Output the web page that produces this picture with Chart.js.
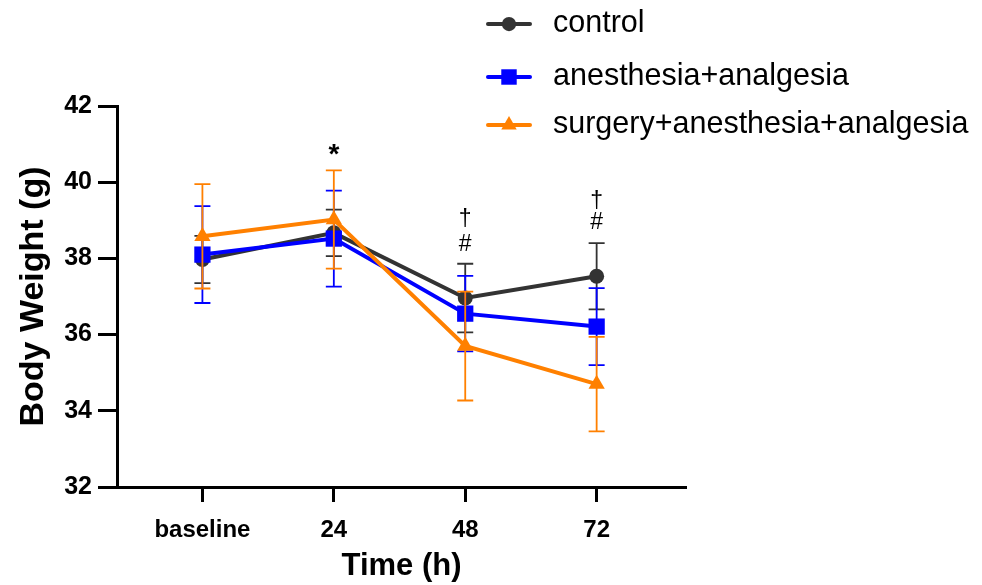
<!DOCTYPE html>
<html lang="en">
<head>
  <meta charset="UTF-8">
  <title>Body Weight</title>
  <script src="https://cdn.jsdelivr.net/npm/chart.js"></script>
  <style>
    body { margin: 0; background: #fff; }
    #wrap { width: 982px; height: 585px; }
  </style>
</head>
<body>
  <div id="wrap"><canvas id="weightChart" width="982" height="585"></canvas></div>

  <script>
    // data
    const timeLabels = ['baseline', '24', '48', '72'];
    const seriesNames = ['control', 'anesthesia+analgesia', 'surgery+anesthesia+analgesia'];

    const controlMean = [37.97, 38.67, 36.96, 37.53];
    const controlSd = [0.62, 0.61, 0.90, 0.87];
    const anesMean = [38.10, 38.52, 36.55, 36.21];
    const anesSd = [1.27, 1.26, 0.99, 1.01];
    const surgMean = [38.58, 39.02, 35.70, 34.70];
    const surgSd = [1.37, 1.29, 1.43, 1.24];

    const yTicks = [32, 34, 36, 38, 40, 42];

    // significance marks: [time index, y value, text]
    const marks = [
      [1, 40.70, '*'],
      [2, 39.02, '†'], [2, 38.36, '#'],
      [3, 39.49, '†'], [3, 38.94, '#']
    ];

    const FONT = "'Liberation Sans', Arial, sans-serif";
    const colors = ['#333333', '#0000ff', '#ff8000'];
    const shapes = ['circle', 'rect', 'triangle'];
    const radii = [7.5, 11.5, 9.4];
    const sds = [controlSd, anesSd, surgSd];

    function toPoints(arr) {
      return arr.map((v, i) => ({ x: i, y: v }));
    }

    // error bars, drawn just before each dataset's own line
    const errorBars = {
      id: 'errorBars',
      beforeDatasetDraw(chart, args) {
        const { ctx, scales: { x, y } } = chart;
        const ds = chart.data.datasets[args.index];
        const sd = sds[args.index];
        ctx.save();
        ctx.strokeStyle = ds.borderColor;
        ctx.lineWidth = 1.8;
        ds.data.forEach((p, i) => {
          const px = x.getPixelForValue(p.x);
          const top = y.getPixelForValue(p.y + sd[i]);
          const bot = y.getPixelForValue(p.y - sd[i]);
          ctx.beginPath();
          ctx.moveTo(px, top); ctx.lineTo(px, bot);
          ctx.moveTo(px - 8, top); ctx.lineTo(px + 8, top);
          ctx.moveTo(px - 8, bot); ctx.lineTo(px + 8, bot);
          ctx.stroke();
        });
        ctx.restore();
      }
    };

    // stars, daggers, hashes above the points
    const sigMarks = {
      id: 'sigMarks',
      afterDatasetsDraw(chart) {
        const { ctx, scales: { x, y } } = chart;
        ctx.save();
        ctx.fillStyle = '#000';
        ctx.textAlign = 'center';
        ctx.textBaseline = 'middle';
        marks.forEach(([i, v, t]) => {
          ctx.font = t === '*' ? 'bold 28px ' + FONT : '23px ' + FONT;
          ctx.fillText(t, x.getPixelForValue(i), y.getPixelForValue(v));
        });
        ctx.restore();
      }
    };

    // legend in the top right corner, line + marker + name
    function drawMarker(ctx, shape, cx, cy, r) {
      ctx.beginPath();
      if (shape === 'circle') {
        ctx.arc(cx, cy, r, 0, Math.PI * 2);
      } else if (shape === 'rect') {
        const s = r * Math.SQRT1_2;
        ctx.rect(cx - s, cy - s, 2 * s, 2 * s);
      } else {
        const h = r * 1.5, b = r * Math.sqrt(3) / 2;
        ctx.moveTo(cx, cy - r);
        ctx.lineTo(cx + b, cy + h - r);
        ctx.lineTo(cx - b, cy + h - r);
        ctx.closePath();
      }
      ctx.fill();
    }

    const sideLegend = {
      id: 'sideLegend',
      afterDraw(chart) {
        const ctx = chart.ctx;
        const rows = [24, 77, 125];
        ctx.save();
        chart.data.datasets.forEach((ds, i) => {
          const yy = rows[i];
          ctx.strokeStyle = ds.borderColor;
          ctx.fillStyle = ds.borderColor;
          ctx.lineWidth = 4;
          ctx.lineCap = 'round';
          ctx.beginPath();
          ctx.moveTo(488, yy); ctx.lineTo(530, yy);
          ctx.stroke();
          drawMarker(ctx, shapes[i], 509, yy, radii[i] * 0.95);
          ctx.fillStyle = '#000';
          ctx.font = '30.5px ' + FONT;
          ctx.textAlign = 'left';
          ctx.textBaseline = 'middle';
          ctx.fillText(ds.label, 553, yy);
        });
        ctx.restore();
      }
    };

    const datasets = [controlMean, anesMean, surgMean].map((m, i) => ({
      label: seriesNames[i],
      data: toPoints(m),
      borderColor: colors[i],
      backgroundColor: colors[i],
      borderWidth: 4,
      pointStyle: shapes[i],
      pointRadius: radii[i],
      pointBorderWidth: 0,
      pointHoverRadius: radii[i],
      order: 3 - i
    }));

    new Chart(document.getElementById('weightChart'), {
      type: 'line',
      data: { datasets },
      plugins: [errorBars, sigMarks, sideLegend],
      options: {
        responsive: false,
        animation: false,
        layout: { padding: { left: 0, top: 106, right: 296, bottom: 0 } },
        plugins: { legend: { display: false }, tooltip: { enabled: false } },
        scales: {
          x: {
            type: 'linear',
            min: -0.65,
            max: 3.68,
            afterBuildTicks: s => { s.ticks = timeLabels.map((_, i) => ({ value: i })); },
            afterFit: s => { s.height = 98; },
            border: { display: true, color: '#000', width: 3 },
            grid: { drawOnChartArea: false, tickLength: 15, tickWidth: 3, tickColor: '#000' },
            ticks: {
              color: '#000',
              padding: 14,
              maxRotation: 0,
              font: { family: FONT, size: 24, weight: 'bold' },
              callback: v => timeLabels[v]
            },
            title: {
              display: true,
              text: 'Time (h)',
              color: '#000',
              padding: { top: 0, bottom: 0 },
              font: { family: FONT, size: 31, weight: 'bold', lineHeight: 1.2 }
            }
          },
          y: {
            min: 32,
            max: 42,
            afterBuildTicks: s => { s.ticks = yTicks.map(v => ({ value: v })); },
            afterFit: s => { s.width = 117; },
            border: { display: true, color: '#000', width: 3 },
            grid: { drawOnChartArea: false, tickLength: 19, tickWidth: 3, tickColor: '#000' },
            ticks: {
              color: '#000',
              padding: 6,
              font: { family: FONT, size: 25, weight: 'bold' }
            },
            title: {
              display: true,
              text: 'Body Weight (g)',
              color: '#000',
              padding: { top: 13, bottom: 0 },
              font: { family: FONT, size: 34, weight: 'bold', lineHeight: 1.2 }
            }
          }
        }
      }
    });
  </script>
</body>
</html>
